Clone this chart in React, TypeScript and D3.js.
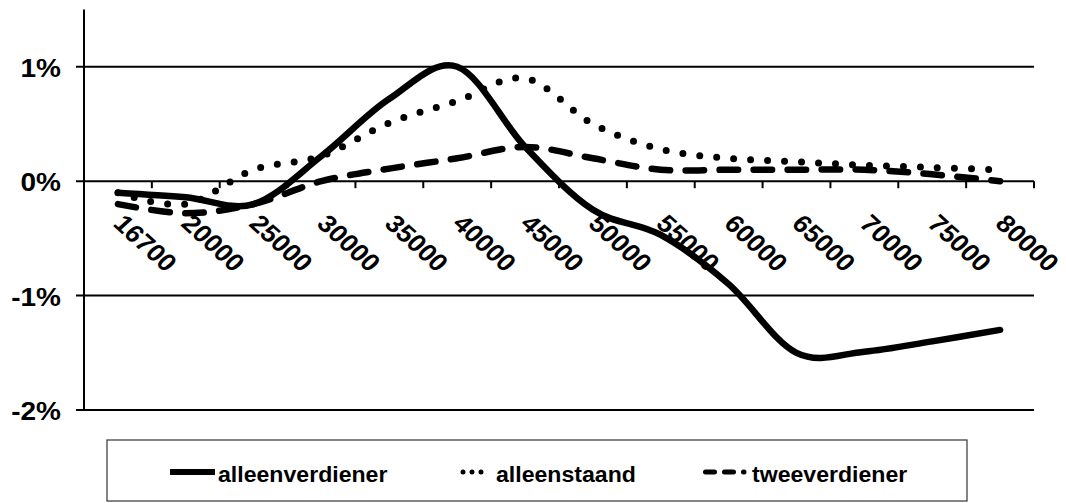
import React from "react";
import * as d3 from "d3";

const categories = ["16700","20000","25000","30000","35000","40000","45000","50000","55000","60000","65000","70000","75000","80000"];
const alleenverdiener = [-0.10,-0.14,-0.20,0.22,0.72,1.00,0.30,-0.25,-0.47,-0.90,-1.50,-1.49,-1.40,-1.30];
const alleenstaand = [-0.10,-0.20,0.10,0.22,0.51,0.70,0.90,0.50,0.28,0.20,0.17,0.14,0.12,0.10];
const tweeverdiener = [-0.20,-0.28,-0.20,0.00,0.11,0.20,0.30,0.20,0.10,0.10,0.10,0.10,0.06,0.00];
const yTicks = [-2,-1,0,1];
const yTickLabels = ["-2%","-1%","0%","1%"];
const seriesNames = ["alleenverdiener","alleenstaand","tweeverdiener"];

const W = 1066, H = 503;
const FONT = "'Liberation Sans', Arial, sans-serif";

export default function App() {
  const x = d3.scaleBand<string>().domain(categories).range([84, 1034]).padding(0);
  const y = d3.scaleLinear().domain([-2, 1.5]).range([410, 9.6]);
  const cx = (c: string) => (x(c) as number) + x.bandwidth() / 2;
  const line = d3.line<number>()
    .x((_, i) => cx(categories[i]))
    .y((v) => y(v))
    .curve(d3.curveCardinal.tension(0));

  const styles = [
    { stroke: "#000", strokeWidth: 6.5, dash: undefined as string | undefined, cap: "round" },
    { stroke: "#000", strokeWidth: 7, dash: "0 17", cap: "round" },
    { stroke: "#000", strokeWidth: 6.5, dash: "18.5 15.5", cap: "round" },
  ];
  const data = [alleenverdiener, alleenstaand, tweeverdiener];

  const edges = categories.map((c) => x(c) as number).concat([1034]);

  return (
    <svg width={W} height={H} style={{ display: "block", position: "absolute", left: 0, top: 0 }} fontFamily={FONT}>
      <style>{`body{margin:0}`}</style>
      <rect x={0} y={0} width={W} height={H} fill="#fff" />
      {/* gridlines */}
      {yTicks.map((t) => (
        <line key={"g" + t} x1={76} x2={1034} y1={y(t)} y2={y(t)} stroke="#000" strokeWidth={2} />
      ))}
      {/* y axis */}
      <line x1={84} x2={84} y1={y(1.5)} y2={y(-2) + 1} stroke="#000" strokeWidth={2} />
      {/* x axis ticks */}
      {edges.map((e, i) => (
        <line key={"xt" + i} x1={e} x2={e} y1={y(0)} y2={y(0) + 7} stroke="#000" strokeWidth={2} />
      ))}
      {/* y labels */}
      {yTicks.map((t, i) => (
        <text key={"yl" + t} transform={`translate(61,${y(t) + 10}) scale(1.12,1)`} textAnchor="end"
          fontSize={25} fontWeight="bold" fill="#000">{yTickLabels[i]}</text>
      ))}
      {/* x labels */}
      {categories.map((c) => (
        <text key={"xl" + c} transform={`translate(${cx(c) - 6},225) scale(1.11,1) rotate(45)`}
          fontSize={24.5} fontWeight="bold" fill="#000">{c}</text>
      ))}
      {/* series */}
      {data.map((d, i) => (
        <path key={"s" + i} d={line(d) as string} fill="none" stroke={styles[i].stroke}
          strokeWidth={styles[i].strokeWidth} strokeDasharray={styles[i].dash}
          strokeLinecap={styles[i].cap as any} strokeLinejoin="round" />
      ))}
      {/* legend */}
      <rect x={107} y={440} width={860} height={61} fill="none" stroke="#444" strokeWidth={1.3} />
      <line x1={170} x2={215} y1={472} y2={472} stroke="#000" strokeWidth={6} />
      <text transform="translate(218,482) scale(1.05,1)" fontSize={22} fontWeight="bold">{seriesNames[0]}</text>
      <line x1={463} x2={490} y1={472} y2={472} stroke="#000" strokeWidth={5} strokeDasharray="0 9" strokeLinecap="round" />
      <text transform="translate(496,482) scale(1.05,1)" fontSize={22} fontWeight="bold">{seriesNames[1]}</text>
      <line x1={705.5} x2={744} y1={472} y2={472} stroke="#000" strokeWidth={5} strokeDasharray="9 10" strokeLinecap="round" />
      <text transform="translate(752,482) scale(1.05,1)" fontSize={22} fontWeight="bold">{seriesNames[2]}</text>
    </svg>
  );
}
